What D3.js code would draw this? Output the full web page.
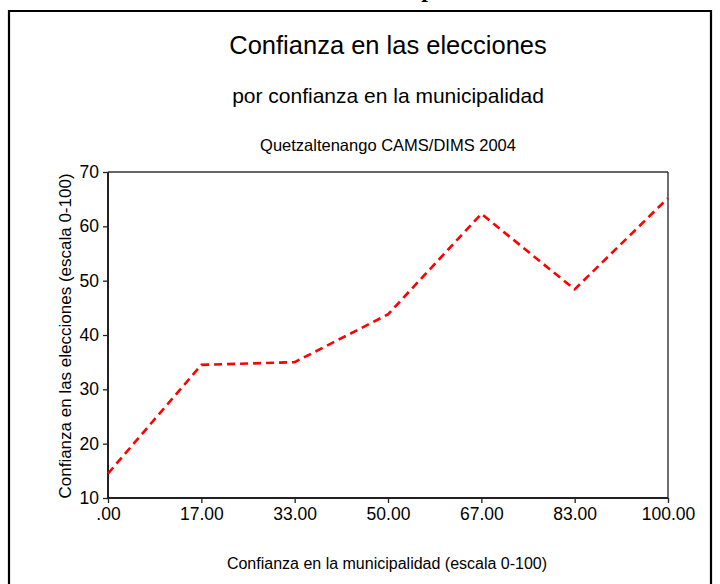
<!DOCTYPE html>
<html><head><meta charset="utf-8">
<script src="https://cdn.jsdelivr.net/npm/d3@7"></script>
<style>body{margin:0;background:#fff}svg{display:block}</style>
</head><body>
<svg id="c" width="720" height="584"></svg>
<script>
const categories = [".00","17.00","33.00","50.00","67.00","83.00","100.00"];
const values = [14.5, 34.5, 35.0, 43.8, 62.3, 48.4, 65.2];
const yTicks = [10,20,30,40,50,60,70];

const svg = d3.select("#c");
const font = "'Liberation Sans', Arial, sans-serif";
const L=108, R=668, T=172, B=498;

// frame
svg.append("path").attr("d","M9,590 V11 H711 V590").attr("fill","none").attr("stroke","#000").attr("stroke-width",2.2);
// cut-off heading fragment
svg.append("text").attr("x",428).attr("y",-3).attr("text-anchor","middle")
  .attr("font-family","'Liberation Serif', serif").attr("font-weight","bold").attr("font-size",24).text("p");

const x = d3.scalePoint().domain(categories).range([L,R]);
const y = d3.scaleLinear().domain([10,70]).range([B,T]);

const t = (txt,xx,yy,size)=>svg.append("text").attr("x",xx).attr("y",yy).attr("text-anchor","middle")
  .attr("font-family",font).attr("font-size",size).attr("fill","#000").text(txt);
t("Confianza en las elecciones",388,54,25.5);
t("por confianza en la municipalidad",388,103,21);
t("Quetzaltenango CAMS/DIMS 2004",388,151,16.5);
t("Confianza en la municipalidad (escala 0-100)",387,569,16);
svg.append("text").attr("transform","translate(71,336) rotate(-90)").attr("text-anchor","middle")
  .attr("font-family",font).attr("font-size",17).text("Confianza en las elecciones (escala 0-100)");

// plot box top/right
svg.append("line").attr("x1",L).attr("x2",R).attr("y1",T).attr("y2",T).attr("stroke","#666").attr("stroke-width",2);
svg.append("line").attr("x1",R).attr("x2",R).attr("y1",T).attr("y2",B).attr("stroke","#222").attr("stroke-width",1.3);

const ya = svg.append("g").attr("transform",`translate(${L},0)`)
  .call(d3.axisLeft(y).tickValues(yTicks).tickSize(5).tickPadding(4).tickFormat(d3.format("d")));
const xa = svg.append("g").attr("transform",`translate(0,${B})`)
  .call(d3.axisBottom(x).tickSize(5).tickPadding(5));
[ya,xa].forEach(g=>{
  g.select(".domain").attr("stroke","#222").attr("stroke-width",2);
  g.selectAll(".tick line").attr("stroke","#222").attr("stroke-width",1.3);
  g.selectAll("text").attr("font-family",font).attr("font-size",17.5).attr("fill","#000");
});
ya.select(".domain").attr("d",`M0,${T}V${B}`);
xa.select(".domain").attr("d",`M${L},0H${R}`);

const line = d3.line().x((d,i)=>x(categories[i])).y(d=>y(d));
svg.append("path").datum(values).attr("d",line).attr("fill","none")
  .attr("stroke","#ff0000").attr("stroke-width",2.6).attr("stroke-dasharray","8,5");
</script>
</body></html>
